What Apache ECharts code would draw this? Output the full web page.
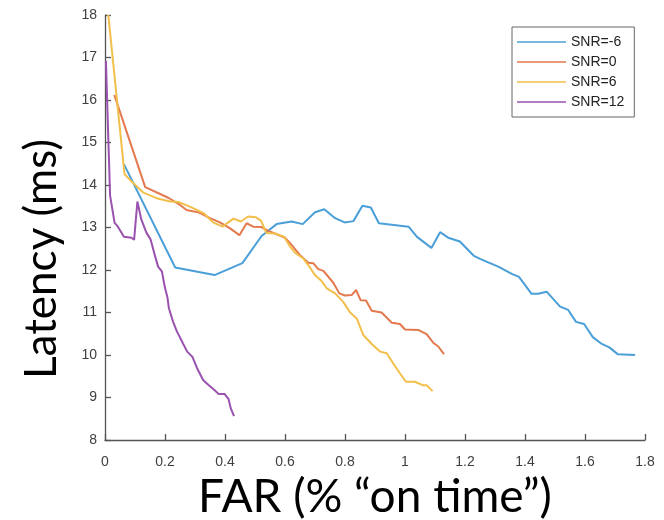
<!DOCTYPE html>
<html>
<head>
<meta charset="utf-8">
<script src="https://cdn.jsdelivr.net/npm/echarts@6/dist/echarts.min.js"></script>
<style>
  html,body{margin:0;padding:0;background:#fff;}
  #chart{width:664px;height:520px;}
</style>
</head>
<body>
<div id="chart"></div>
<script>
// FAR (% on time), latency (ms) pairs
const seriesNames=['SNR=-6','SNR=0','SNR=6','SNR=12'];
const colors=['#4a9fd8','#e3794d','#f2bf4b','#9a52b0'];

const snrM6=[[0.063,14.49],[0.234,12.06],[0.365,11.88],[0.458,12.16],[0.522,12.8],[0.572,13.08],[0.622,13.14],[0.659,13.08],
  [0.70,13.36],[0.731,13.43],[0.767,13.22],[0.799,13.12],[0.828,13.15],[0.858,13.51],[0.886,13.47],[0.913,13.10],
  [1.012,13.02],[1.04,12.78],[1.088,12.52],[1.117,12.89],[1.144,12.76],[1.183,12.67],[1.23,12.33],[1.25,12.26],
  [1.311,12.08],[1.356,11.91],[1.38,11.84],[1.422,11.44],[1.444,11.44],[1.472,11.49],[1.517,11.14],[1.544,11.06],
  [1.57,10.78],[1.597,10.73],[1.626,10.42],[1.656,10.26],[1.681,10.18],[1.709,10.02],[1.767,10.0]];

const snr0=[[0.031,16.12],[0.134,13.95],[0.211,13.70],[0.25,13.53],[0.272,13.41],[0.314,13.35],[0.35,13.22],[0.383,13.12],
  [0.417,12.98],[0.448,12.82],[0.472,13.10],[0.494,13.02],[0.522,13.01],[0.544,12.92],[0.572,12.84],[0.6,12.76],
  [0.617,12.63],[0.65,12.35],[0.678,12.17],[0.694,12.16],[0.711,12.02],[0.728,11.98],[0.761,11.70],[0.781,11.45],
  [0.8,11.40],[0.822,11.41],[0.837,11.53],[0.852,11.29],[0.87,11.28],[0.889,11.04],[0.922,11.0],[0.956,10.76],
  [0.983,10.73],[1.0,10.6],[1.044,10.59],[1.072,10.49],[1.094,10.29],[1.111,10.2],[1.13,10.02]];

const snr6=[[0.011,18.0],[0.065,14.26],[0.089,14.08],[0.128,13.82],[0.172,13.69],[0.217,13.61],[0.244,13.60],[0.283,13.49],
  [0.33,13.33],[0.36,13.12],[0.392,13.02],[0.428,13.21],[0.453,13.14],[0.477,13.26],[0.503,13.24],[0.52,13.16],
  [0.538,12.87],[0.567,12.86],[0.597,12.78],[0.617,12.55],[0.633,12.41],[0.661,12.27],[0.683,12.06],[0.7,11.88],
  [0.722,11.74],[0.739,11.57],[0.767,11.45],[0.794,11.25],[0.817,11.0],[0.839,10.86],[0.861,10.47],[0.889,10.26],
  [0.917,10.08],[0.939,10.04],[0.961,9.8],[0.983,9.57],[1.003,9.37],[1.033,9.37],[1.059,9.29],[1.072,9.29],[1.092,9.15]];

const snr12=[[0.003,16.92],[0.017,13.75],[0.032,13.11],[0.041,13.04],[0.063,12.78],[0.088,12.76],[0.097,12.71],[0.108,13.61],
  [0.114,13.59],[0.121,13.19],[0.138,12.88],[0.152,12.72],[0.166,12.35],[0.177,12.08],[0.19,11.96],[0.199,11.61],
  [0.208,11.36],[0.213,11.1],[0.227,10.78],[0.24,10.55],[0.26,10.27],[0.274,10.08],[0.291,9.96],[0.307,9.69],
  [0.327,9.41],[0.346,9.29],[0.363,9.19],[0.379,9.08],[0.399,9.08],[0.412,8.96],[0.419,8.75],[0.43,8.56]];

const allData=[snrM6,snr0,snr6,snr12];

const chart=echarts.init(document.getElementById('chart'),null,{renderer:'canvas'});

const axisStyle={
    axisLine:{show:true,lineStyle:{color:'#555',width:1.3}},
    axisTick:{show:true,inside:true,length:6,lineStyle:{color:'#555',width:1.3}},
    splitLine:{show:false},
    axisLabel:{color:'#404040',fontSize:14,fontFamily:'Liberation Sans'}
};

const option={
    animation:false,
    backgroundColor:'#fff',
    grid:{left:105,right:19,top:15,bottom:80,containLabel:false,outerBoundsMode:'none'},
    xAxis:Object.assign({
        type:'value',min:0,max:1.8,interval:0.2,
        name:'FAR (% \u201Con time\u201D)',
        nameLocation:'middle',nameGap:33,
        nameTextStyle:{fontSize:46,color:'#000',fontFamily:'Lato'}
    },axisStyle,{axisLabel:Object.assign({},axisStyle.axisLabel,{margin:15})}),
    yAxis:Object.assign({
        type:'value',min:8,max:18,interval:1
    },axisStyle,{axisLabel:Object.assign({},axisStyle.axisLabel,{margin:8})}),
    graphic:[{
        type:'text',
        x:42,y:259,rotation:Math.PI/2,
        style:{text:'Latency (ms)',fontSize:44,fontFamily:'Lato',fill:'#000',
            textAlign:'center',textVerticalAlign:'middle'}
    }],
    legend:{
        orient:'vertical',
        left:512,top:27,
        padding:[8,10,8,5],
        itemGap:6,
        icon:'rect',
        itemWidth:49,itemHeight:1.5,
        borderColor:'#666',borderWidth:1,
        textStyle:{fontSize:14,lineHeight:14,color:'#222',fontFamily:'Liberation Sans'},
        data:seriesNames
    },
    series:allData.map((d,i)=>({
        name:seriesNames[i],
        type:'line',
        data:d,
        symbol:'none',
        smooth:false,
        lineStyle:{width:2,color:colors[i]},
        itemStyle:{color:colors[i]}
    }))
};
chart.setOption(option);
</script>
</body>
</html>
